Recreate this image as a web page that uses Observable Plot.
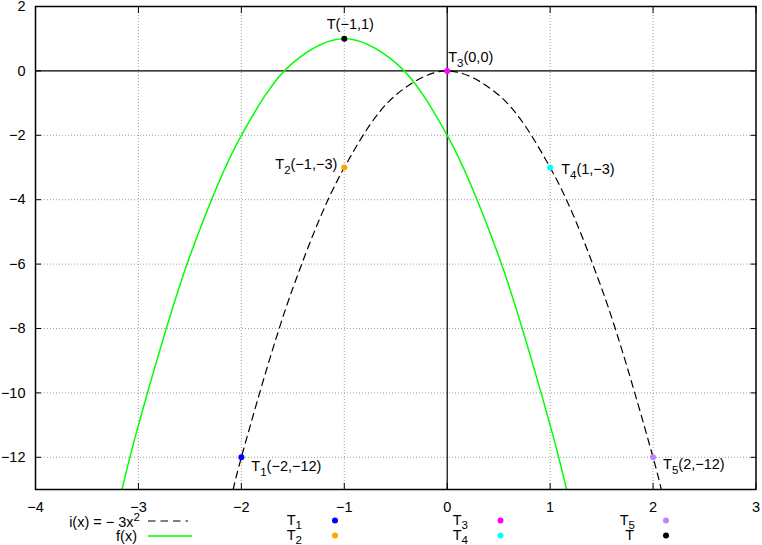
<!DOCTYPE html>
<html><head><meta charset="utf-8">
<script src="https://cdn.jsdelivr.net/npm/d3@7"></script>
<script src="https://cdn.jsdelivr.net/npm/@observablehq/plot@0.6"></script>
<style>body{margin:0;background:#fff} svg{display:block}</style>
</head><body><div id="chart"></div>
<script>
// ---- data ----
const xTicks = [-4, -3, -2, -1, 0, 1, 2, 3];
const yTicks = [-12, -10, -8, -6, -4, -2, 0, 2];
const xGridLines = [-3, -2, -1, 1, 2];
const yGridLines = [-12, -10, -8, -6, -4, -2];

// i(x) = -3x^2 (dashed black)
const iX = [-2.08, -2, -1.5, -1, -0.5, 0, 0.5, 1, 1.5, 2, 2.08];
const iY = [-13, -12, -6.75, -3, -0.75, 0, -0.75, -3, -6.75, -12, -13];
// f(x) (green)
const fX = [-3.16, -3, -2.5, -2, -1.5, -1, -0.5, 0, 0.5, 1, 1.16];
const fY = [-13, -11, -5.75, -2, 0.25, 1, 0.25, -2, -5.75, -11, -13];

// points
const pointNames  = ["T1", "T2", "T3", "T4", "T5", "T"];
const pointX      = [-2, -1, 0, 1, 2, -1];
const pointY      = [-12, -3, 0, -3, -12, 1];
const pointLabels = ["T_1(−2,−12)", "T_2(−1,−3)", "T_3(0,0)", "T_4(1,−3)", "T_5(2,−12)", "T(−1,1)"];
const pointColors = ["#0000ff", "#ffa500", "#ff00ff", "#00ffff", "#c080ff", "#000000"];

// ---- build ----
const FONT = "'Liberation Sans', Arial, Helvetica, sans-serif";
const FS = "14.5px";
const iData = iX.map((x, k) => ({x, y: iY[k]}));
const fData = fX.map((x, k) => ({x, y: fY[k]}));
const pts = pointNames.map((name, k) => ({name, x: pointX[k], y: pointY[k], label: pointLabels[k]}));

const placement = {
  T1: {textAnchor: "start",  dx: 10, dy: 9},
  T2: {textAnchor: "end",    dx: -7, dy: -3},
  T3: {textAnchor: "start",  dx: 1,  dy: -14},
  T4: {textAnchor: "start",  dx: 11, dy: 2},
  T5: {textAnchor: "start",  dx: 10, dy: 7},
  T:  {textAnchor: "middle", dx: 6,  dy: -14}
};

const gridStyle = {stroke: "#a0a0a0", strokeOpacity: 1, strokeDasharray: "1,2", strokeWidth: 1};
const DASH = "7,5";

const plot = Plot.plot({
  width: 762, height: 545,
  marginLeft: 35, marginRight: 6.5, marginTop: 6, marginBottom: 56,
  style: {fontFamily: FONT, fontSize: FS, background: "white", color: "black", overflow: "visible"},
  x: {domain: [-4, 3]},
  y: {domain: [-13, 2]},
  color: {domain: pointNames, range: pointColors},
  marks: [
    Plot.gridX(xGridLines, gridStyle),
    Plot.gridY(yGridLines, gridStyle),
    Plot.ruleX([0], {stroke: "black", strokeWidth: 1.2}),
    Plot.ruleY([0], {stroke: "black", strokeWidth: 1.2}),
    Plot.line(iData, {x: "x", y: "y", stroke: "black", strokeWidth: 1.2, strokeDasharray: DASH, curve: "catmull-rom", clip: true}),
    Plot.line(fData, {x: "x", y: "y", stroke: "#00ff00", strokeWidth: 1.5, curve: "catmull-rom", clip: true}),
    Plot.dot(pts, {x: "x", y: "y", fill: "name", r: 3}),
    ...pts.map(p => Plot.text([p], {x: "x", y: "y", text: "label", fill: "black", ...placement[p.name]})),
    Plot.axisX(xTicks, {anchor: "bottom", label: null, tickSize: -6, tickPadding: 18, stroke: "black"}),
    Plot.axisX(xTicks, {anchor: "top", label: null, tickSize: -6, tickFormat: () => "", stroke: "black"}),
    Plot.axisY(yTicks, {anchor: "left", label: null, tickSize: -6, tickPadding: 16, stroke: "black"}),
    Plot.axisY(yTicks, {anchor: "right", label: null, tickSize: -6, tickFormat: () => "", stroke: "black"}),
    Plot.frame({stroke: "black", strokeWidth: 1.5})
  ]
});

// subscripts in point labels
d3.select(plot).selectAll("text").each(function () {
  const s = this.textContent;
  const m = s.match(/^([^_]*)_(\d)(.*)$/);
  if (!m) return;
  const t = d3.select(this);
  t.text(null);
  t.append("tspan").text(m[1]);
  t.append("tspan").attr("font-size", "11.5px").attr("dy", 5).text(m[2]);
  t.append("tspan").attr("dy", -5).text(m[3]);
});

// ---- legend (below the plot area) ----
const svg = d3.select(plot);
const lg = svg.append("g").attr("font-family", FONT).attr("font-size", FS).attr("fill", "black");
function label(g, x, y, base, sub, sup, anchor) {
  const t = g.append("text").attr("x", x).attr("y", y).attr("text-anchor", anchor || "end");
  t.append("tspan").text(base);
  if (sub) t.append("tspan").attr("font-size", "11.5px").attr("dy", 3.5).text(sub);
  if (sup) t.append("tspan").attr("font-size", "11.5px").attr("dy", -6).text(sup);
  return t;
}
const r1 = 526.5, r2 = 541;
label(lg, 140, r1, "i(x) = − 3x", null, "2");
lg.append("line").attr("x1", 148).attr("x2", 188).attr("y1", r1 - 5.5).attr("y2", r1 - 5.5)
  .attr("stroke", "black").attr("stroke-width", 1.2).attr("stroke-dasharray", "7.5,5");
label(lg, 137, r2, "f(x)");
lg.append("line").attr("x1", 148).attr("x2", 192).attr("y1", r2 - 5).attr("y2", r2 - 5)
  .attr("stroke", "#00ff00").attr("stroke-width", 1.5);

const legendItems = [
  {col: 0, row: 0, base: "T", sub: "1", name: "T1"},
  {col: 0, row: 1, base: "T", sub: "2", name: "T2"},
  {col: 1, row: 0, base: "T", sub: "3", name: "T3"},
  {col: 1, row: 1, base: "T", sub: "4", name: "T4"},
  {col: 2, row: 0, base: "T", sub: "5", name: "T5"},
  {col: 2, row: 1, base: "T", sub: null, name: "T"}
];
const colTextEnd = [302, 468, 635];
const colDot = [335, 500.5, 666];
legendItems.forEach(it => {
  const y = it.row === 0 ? 525 : 540;
  label(lg, colTextEnd[it.col] + (it.sub ? 0 : -1), y, it.base, it.sub);
  lg.append("circle").attr("cx", colDot[it.col]).attr("cy", y - 4.5).attr("r", 3)
    .attr("fill", pointColors[pointNames.indexOf(it.name)]);
});

document.getElementById("chart").appendChild(plot);
</script>
</body></html>
